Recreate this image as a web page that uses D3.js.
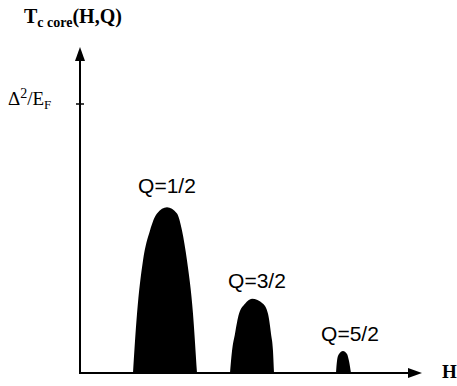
<!DOCTYPE html>
<html>
<head>
<meta charset="UTF-8">
<script src="https://d3js.org/d3.v7.min.js"></script>
<style>
  body { margin: 0; background: #fff; }
  svg text { fill: #000; }
</style>
</head>
<body>
<div id="chart"></div>
<script>
// Q labels of each dome
const labels = ["Q=1/2", "Q=3/2", "Q=5/2"];
// dome outlines: [H, Tc] with Tc in units of Δ²/E_F
const dome1 = [[5.3,0],[5.7,0.22],[6.3,0.418],[7.0,0.53],[7.7,0.593],[8.7,0.616],[9.7,0.593],[10.2,0.53],[10.7,0.418],[11.3,0.22],[11.7,0]];
const dome2 = [[15.0,0],[15.2,0.082],[15.5,0.146],[15.9,0.22],[16.5,0.257],[17.2,0.276],[18.3,0.257],[18.8,0.22],[19.1,0.146],[19.3,0.082],[19.4,0]];
const dome3 = [[25.6,0],[25.7,0.045],[25.9,0.071],[26.3,0.082],[26.7,0.071],[26.9,0.045],[27.1,0]];
const domes = [dome1, dome2, dome3];
const yTicks = [1];

const width = 457, height = 386;
const svg = d3.select("#chart").append("svg")
  .attr("width", width).attr("height", height);

const x = d3.scaleLinear().domain([0, 34]).range([80, 420]);
const y = d3.scaleLinear().domain([0, 1]).range([373, 104]);

// domes
const area = d3.area()
  .x(d => x(d[0]))
  .y0(y(0))
  .y1(d => y(d[1]))
  .curve(d3.curveMonotoneX);

svg.selectAll(".dome").data(domes).enter().append("path")
  .attr("d", area)
  .attr("fill", "#000");

// labels above domes, nudged a little to the right like the original
const peak = d => d.reduce((a, b) => (b[1] > a[1] ? b : a));
const labelDx = [0, 5, 7], labelDy = [-14, -11, -10];
svg.selectAll(".qlab").data(domes).enter().append("text")
  .attr("x", (d, i) => x(peak(d)[0]) + labelDx[i])
  .attr("y", (d, i) => y(peak(d)[1]) + labelDy[i])
  .attr("text-anchor", "middle")
  .style("font-family", "'Liberation Sans', Arial, sans-serif")
  .style("font-size", "21px")
  .text((d, i) => labels[i]);

// axes with arrows
svg.append("line")
  .attr("x1", x(0)).attr("y1", y(0))
  .attr("x2", x(34) - 10).attr("y2", y(0))
  .attr("stroke", "#000").attr("stroke-width", 2);
svg.append("path")
  .attr("d", `M${x(34) + 2},${y(0)} L${x(34) - 12},${y(0) - 5} L${x(34) - 12},${y(0) + 5} Z`)
  .attr("fill", "#000");

svg.append("line")
  .attr("x1", x(0)).attr("y1", y(0) + 1)
  .attr("x2", x(0)).attr("y2", 58)
  .attr("stroke", "#000").attr("stroke-width", 2);
svg.append("path")
  .attr("d", `M${x(0)},47 L${x(0) - 5},61 L${x(0) + 5},61 Z`)
  .attr("fill", "#000");

// y tick
yTicks.forEach(t => {
  svg.append("line")
    .attr("x1", x(0) - 4).attr("x2", x(0) + 4)
    .attr("y1", y(t)).attr("y2", y(t))
    .attr("stroke", "#000").attr("stroke-width", 1.5);
  const lab = svg.append("text")
    .attr("x", 8).attr("y", y(t) + 1)
    .style("font-family", "'Liberation Serif', 'Times New Roman', serif")
    .style("font-size", "19px");
  lab.append("tspan").text("Δ");
  lab.append("tspan").attr("dy", -7).style("font-size", "14px").text("2");
  lab.append("tspan").attr("dy", 7).text("/E");
  lab.append("tspan").attr("dy", 4).style("font-size", "13px").text("F");
});

// axis titles
const title = svg.append("text")
  .attr("x", 24).attr("y", 23)
  .style("font-family", "'Liberation Serif', 'Times New Roman', serif")
  .style("font-weight", "bold")
  .style("font-size", "20px");
title.append("tspan").text("T");
title.append("tspan").attr("dy", 4).style("font-size", "14px").text("c core");
title.append("tspan").attr("dy", -4).text("(H,Q)");

svg.append("text")
  .attr("x", 442).attr("y", 378)
  .style("font-family", "'Liberation Serif', 'Times New Roman', serif")
  .style("font-weight", "bold")
  .style("font-size", "19px")
  .text("H");
</script>
</body>
</html>
